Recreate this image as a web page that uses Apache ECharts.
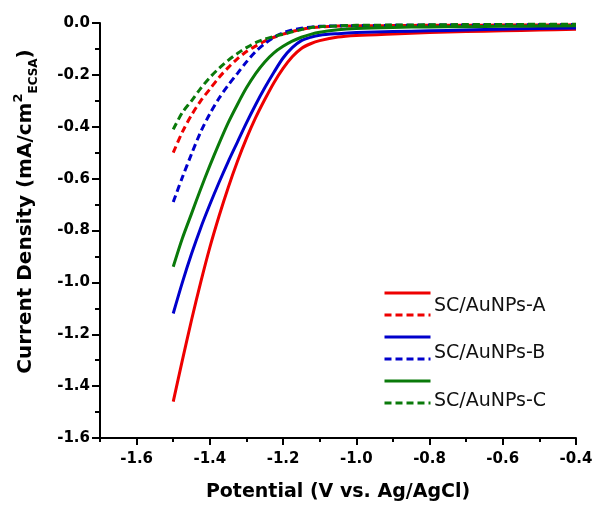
<!DOCTYPE html>
<html>
<head>
<meta charset="utf-8">
<script src="https://cdn.jsdelivr.net/npm/echarts@6.0.0/dist/echarts.min.js"></script>
<style>
  html, body { margin: 0; padding: 0; background: #fff; }
  #chart { width: 592px; height: 506px; }
</style>
</head>
<body>
<div id="chart"></div>
<script>
// potentials (V vs. Ag/AgCl) shared by every curve
var potential = [-1.5, -1.475, -1.45, -1.425, -1.4, -1.375, -1.35, -1.325, -1.3, -1.275, -1.25, -1.225, -1.2,
  -1.175, -1.15, -1.125, -1.1, -1.05, -1.0, -0.9, -0.8, -0.7, -0.6, -0.5, -0.4];

// current density, mA/cm2 ECSA
var aSolid = [-1.46, -1.30, -1.145, -1.0, -0.865, -0.745, -0.635, -0.535, -0.445, -0.365, -0.295, -0.23, -0.175,
  -0.13, -0.098, -0.08, -0.068, -0.054, -0.048, -0.042, -0.037, -0.033, -0.03, -0.027, -0.024];
var aDashed = [-0.50, -0.42, -0.355, -0.30, -0.255, -0.21, -0.172, -0.138, -0.11, -0.089, -0.07, -0.055, -0.043,
  -0.033, -0.025, -0.019, -0.015, -0.012, -0.011, -0.01, -0.009, -0.009, -0.008, -0.008, -0.007];
var bSolid = [-1.12, -1.00, -0.89, -0.79, -0.70, -0.615, -0.535, -0.46, -0.385, -0.315, -0.25, -0.19, -0.135,
  -0.095, -0.068, -0.055, -0.047, -0.041, -0.037, -0.033, -0.03, -0.027, -0.024, -0.021, -0.019];
var bDashed = [-0.69, -0.595, -0.505, -0.42, -0.35, -0.29, -0.24, -0.195, -0.15, -0.11, -0.08, -0.055, -0.038,
  -0.027, -0.02, -0.016, -0.013, -0.011, -0.01, -0.009, -0.008, -0.008, -0.007, -0.007, -0.006];
var cSolid = [-0.94, -0.83, -0.735, -0.64, -0.55, -0.465, -0.385, -0.315, -0.25, -0.195, -0.15, -0.115, -0.09,
  -0.07, -0.055, -0.044, -0.036, -0.026, -0.021, -0.017, -0.015, -0.014, -0.013, -0.012, -0.011];
var cDashed = [-0.41, -0.345, -0.30, -0.252, -0.21, -0.175, -0.144, -0.118, -0.095, -0.076, -0.062, -0.052, -0.043,
  -0.034, -0.025, -0.018, -0.014, -0.011, -0.009, -0.008, -0.007, -0.006, -0.006, -0.005, -0.005];

var samples = ['SC/AuNPs-A', 'SC/AuNPs-B', 'SC/AuNPs-C'];
var colors = ['#ee0000', '#0000cc', '#0a7a0a'];

var xTicks = [-1.6, -1.4, -1.2, -1.0, -0.8, -0.6, -0.4];
var xMinorTicks = [-1.7, -1.5, -1.3, -1.1, -0.9, -0.7, -0.5];

var FONT = 'DejaVu Sans';

function pairs(ys) {
  return potential.map(function (x, i) { return [x, ys[i]]; });
}

function curve(name, color, ys, dashed) {
  return {
    name: name,
    type: 'line',
    data: pairs(ys),
    smooth: 0.3,
    symbol: 'none',
    showSymbol: false,
    lineStyle: { color: color, width: 3, type: dashed ? [7, 4] : 'solid' },
    itemStyle: { color: color }
  };
}

var series = [
  curve(samples[0], colors[0], aSolid, false),
  curve(samples[0] + ' (dashed)', colors[0], aDashed, true),
  curve(samples[1], colors[1], bSolid, false),
  curve(samples[1] + ' (dashed)', colors[1], bDashed, true),
  curve(samples[2], colors[2], cSolid, false),
  curve(samples[2] + ' (dashed)', colors[2], cDashed, true)
];

var black = { color: '#000', width: 2 };

var myChart = echarts.init(document.getElementById('chart'));

myChart.setOption({
  animation: false,
  backgroundColor: '#fff',
  grid: { left: 100, right: 16, top: 23, bottom: 68, outerBoundsMode: 'none' },
  legend: {
    orient: 'vertical',
    left: 383,
    top: 289,
    padding: 0,
    itemWidth: 46,
    itemHeight: 10,
    itemGap: 14,
    itemStyle: { opacity: 0 },
    lineStyle: { width: 3 },
    formatter: function () { return ''; },
    textStyle: { fontSize: 8, lineHeight: 10 },
    data: series.map(function (s) { return s.name; })
  },
  graphic: samples.map(function (name, i) {
    return {
      type: 'text',
      x: 434,
      y: 306 + i * 47.5,
      style: {
        text: name,
        font: '19px "' + FONT + '"',
        fill: '#111',
        verticalAlign: 'middle'
      }
    };
  }),
  xAxis: [{
    type: 'value',
    min: -1.7,
    max: -0.4,
    interval: 0.1,
    name: 'Potential (V vs. Ag/AgCl)',
    nameLocation: 'middle',
    nameGap: 45,
    nameTextStyle: { fontFamily: FONT, fontWeight: 'bold', fontSize: 19, color: '#000' },
    axisLine: { show: true, onZero: false, lineStyle: black },
    axisTick: { show: true, customValues: xTicks, length: 7, lineStyle: black },
    axisLabel: {
      customValues: xTicks,
      margin: 14,
      fontFamily: FONT, fontWeight: 'bold', fontSize: 15, color: '#000',
      formatter: function (v) { return v.toFixed(1); }
    },
    splitLine: { show: false }
  }, {
    type: 'value',
    min: -1.7,
    max: -0.4,
    interval: 0.1,
    position: 'bottom',
    axisLine: { show: false, onZero: false },
    axisTick: { show: true, customValues: xMinorTicks, length: 4, lineStyle: black },
    axisLabel: { show: false },
    splitLine: { show: false }
  }],
  yAxis: {
    type: 'value',
    min: -1.6,
    max: 0,
    interval: 0.2,
    name: '{b|Current Density (mA/cm}{sup|2}{sub|ECSA}{b|)}',
    nameLocation: 'middle',
    nameRotate: 90,
    nameGap: 60,
    nameTextStyle: {
      padding: [0, 0, 0, 38],
      rich: {
        b: { fontFamily: FONT, fontWeight: 'bold', fontSize: 20, color: '#000', lineHeight: 28, verticalAlign: 'middle' },
        sup: { fontFamily: FONT, fontWeight: 'bold', fontSize: 13, color: '#000', verticalAlign: 'top' },
        sub: { fontFamily: FONT, fontWeight: 'bold', fontSize: 12, color: '#000', verticalAlign: 'bottom' }
      }
    },
    axisLine: { show: true, onZero: false, lineStyle: black },
    axisTick: { show: true, length: 8, lineStyle: black },
    minorTick: { show: true, splitNumber: 2, length: 5, lineStyle: black },
    axisLabel: {
      margin: 10,
      fontFamily: FONT, fontWeight: 'bold', fontSize: 15, color: '#000',
      formatter: function (v) { return v.toFixed(1); }
    },
    splitLine: { show: false },
    minorSplitLine: { show: false }
  },
  series: series
});
</script>
</body>
</html>
